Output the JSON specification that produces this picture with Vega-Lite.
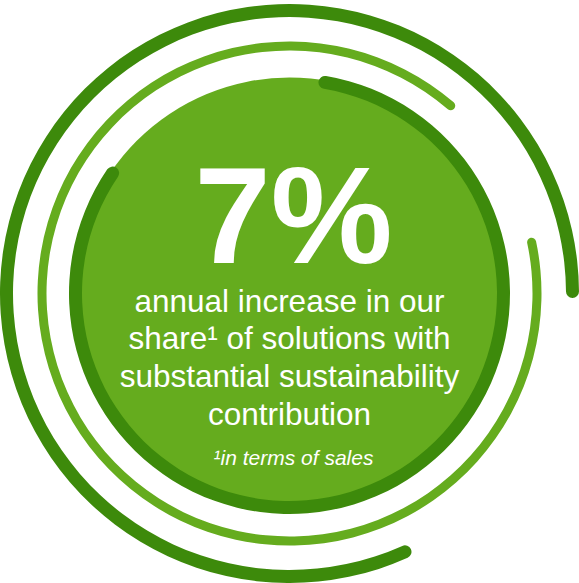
{
  "$schema": "https://vega.github.io/schema/vega-lite/v6.json",
  "width": 579,
  "height": 583,
  "autosize": {"type": "fit", "contains": "padding"},
  "padding": {"top": 4, "left": 0, "right": 0, "bottom": 0},
  "background": "white",
  "view": {"stroke": null},
  "datasets": {
    "rings": [
      {"ring": "fill", "start": 0, "end": 360},
      {"ring": "inner", "start": 7.8, "end": 306},
      {"ring": "middle", "start": 77, "end": 401.7},
      {"ring": "outer", "start": 154.6, "end": 450.9}
    ],
    "texts": [
      {"role": "value", "label": "7%"},
      {"role": "body", "label": "annual increase in our\nshare¹ of solutions with\nsubstantial sustainability\ncontribution"},
      {"role": "note", "label": "¹in terms of sales"}
    ]
  },
  "layer": [
    {
      "data": {"name": "rings"},
      "transform": [{"filter": "datum.ring === 'fill'"}],
      "mark": {"type": "arc", "radius": 216, "radius2": 0, "color": "#65AC1E"},
      "encoding": {
        "theta": {"field": "start", "type": "quantitative", "stack": null, "scale": {"domain": [0, 360], "range": [0, 6.283185307179586]}},
        "theta2": {"field": "end"}
      }
    },
    {
      "data": {"name": "rings"},
      "transform": [{"filter": "datum.ring === 'inner'"}],
      "mark": {"type": "arc", "radius": 220.5, "radius2": 207.5, "cornerRadius": 6.5, "color": "#3D8A0B"},
      "encoding": {
        "theta": {"field": "start", "type": "quantitative", "stack": null},
        "theta2": {"field": "end"}
      }
    },
    {
      "data": {"name": "rings"},
      "transform": [{"filter": "datum.ring === 'middle'"}],
      "mark": {"type": "arc", "radius": 252, "radius2": 243, "cornerRadius": 4.5, "color": "#65AC1E"},
      "encoding": {
        "theta": {"field": "start", "type": "quantitative", "stack": null},
        "theta2": {"field": "end"}
      }
    },
    {
      "data": {"name": "rings"},
      "transform": [{"filter": "datum.ring === 'outer'"}],
      "mark": {"type": "arc", "radius": 289.5, "radius2": 276.5, "cornerRadius": 6.5, "color": "#3D8A0B"},
      "encoding": {
        "theta": {"field": "start", "type": "quantitative", "stack": null},
        "theta2": {"field": "end"}
      }
    },
    {
      "data": {"name": "texts"},
      "transform": [{"filter": "datum.role === 'value'"}],
      "mark": {"type": "text", "font": "Liberation Sans", "fontWeight": "bold", "fontSize": 137, "color": "white", "align": "center", "baseline": "alphabetic", "dx": 4, "dy": -30.5},
      "encoding": {"text": {"field": "label", "type": "nominal"}}
    },
    {
      "data": {"name": "texts"},
      "transform": [{"filter": "datum.role === 'body'"}],
      "mark": {"type": "text", "font": "Liberation Sans", "fontSize": 31.5, "lineHeight": 37.8, "lineBreak": "\n", "color": "white", "align": "center", "baseline": "alphabetic", "dx": 0, "dy": 18.2},
      "encoding": {"text": {"field": "label", "type": "nominal"}}
    },
    {
      "data": {"name": "texts"},
      "transform": [{"filter": "datum.role === 'note'"}],
      "mark": {"type": "text", "font": "Liberation Sans", "fontStyle": "italic", "fontSize": 21, "color": "white", "align": "center", "baseline": "alphabetic", "dx": 4, "dy": 171.5},
      "encoding": {"text": {"field": "label", "type": "nominal"}}
    }
  ]
}
